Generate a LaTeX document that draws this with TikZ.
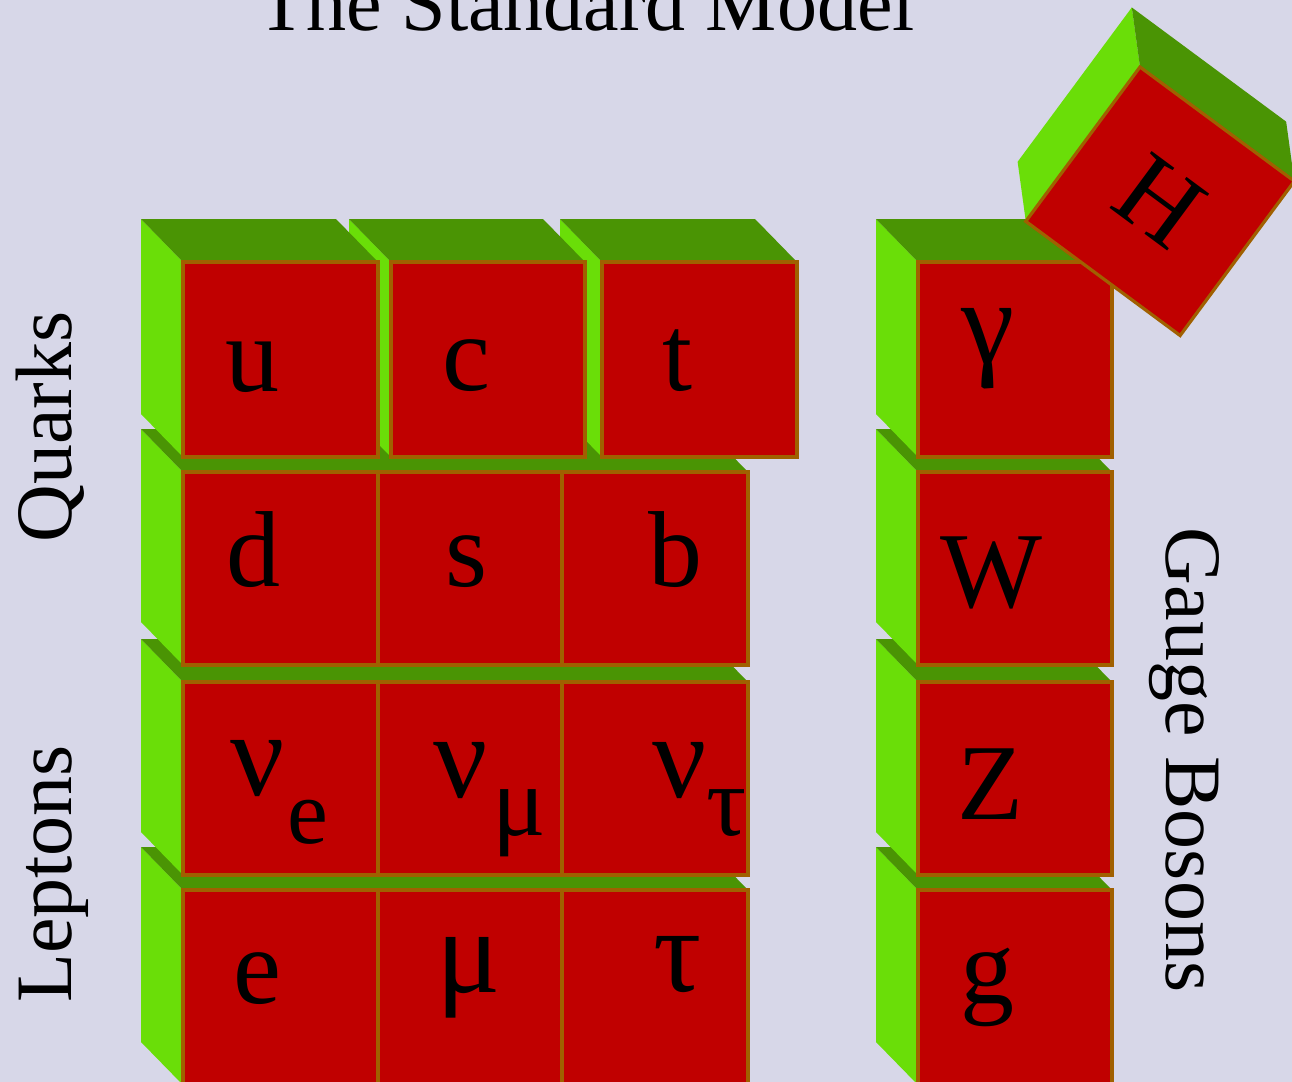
\documentclass[tikz,border=0pt]{standalone}
\usepackage{fontspec}
\setmainfont{Liberation Serif}

\definecolor{bgcol}{RGB}{215,215,232}
\definecolor{cellred}{RGB}{192,0,0}
\definecolor{sidegreen}{RGB}{106,222,8}
\definecolor{topgreen}{RGB}{74,148,4}
\definecolor{edgebrown}{RGB}{160,96,0}

% front face at (x,y) with width and height, depth goes up and left
\newcommand{\cuboid}[4]{%
  \fill[leftface] (#1,#2) -- ++(-42,-43) -- ++(0,#4) -- ++(42,43) -- cycle;
  \fill[topface] (#1,#2) -- ++(-42,-43) -- ++(#3,0) -- ++(42,43) -- cycle;
  \filldraw[frontface] (#1,#2) rectangle ++(#3,#4);
}

\begin{document}
\begin{tikzpicture}[x=0.5pt, y=-0.5pt,
  leftface/.style={fill=sidegreen},
  topface/.style={fill=topgreen},
  edgeline/.style={draw=edgebrown, line width=1.6pt},
  frontface/.style={edgeline, fill=cellred},
  cell/.style={anchor=base, inner sep=0pt, font=\fontsize{54}{54}\selectfont},
  greek/.style={cell, font=\fontsize{60}{60}\selectfont},
  subcell/.style={anchor=base, inner sep=0pt, font=\fontsize{46}{46}\selectfont},
  subgreek/.style={subcell, font=\fontsize{50}{50}\selectfont},
  heading/.style={anchor=base, inner sep=0pt, font=\fontsize{40}{40}\selectfont}]
  \useasboundingbox (0,0) rectangle (1292,1082);
  \fill[bgcol] (0,0) rectangle (1292,1082);

  % gauge bosons column
  \foreach \y/\h in {890/195, 682/193, 472/193, 262/195}
    \cuboid{918}{\y}{194}{\h};

  % second quark row and the two lepton rows
  \foreach \y/\h in {890/195, 682/193, 472/193} {
    \cuboid{183}{\y}{565}{\h}
    \draw[edgeline] (378,\y) -- ++(0,\h);
    \draw[edgeline] (562,\y) -- ++(0,\h);
  }

  % first quark row
  \cuboid{602}{262}{195}{195}
  \cuboid{391}{262}{194}{195}
  \cuboid{183}{262}{195}{195}

  % the Higgs cube
  \begin{scope}[shift={(1140,67)}, rotate=-36.5]
    \cuboid{0}{0}{192}{192}
    \node[cell, anchor=center, transform shape] (H) at (96,96) {H};
  \end{scope}

  \node[cell] (u) at (252,391) {u};
  \node[cell] (c) at (466,390) {c};
  \node[cell] (t) at (677,390) {t};
  \node[greek] (gamma) at (988,363) {γ};

  \node[cell] (d) at (253,586) {d};
  \node[cell] (s) at (467,586) {s};
  \node[cell] (b) at (675,586) {b};
  \node[cell] (W) at (991,607) {W};

  \node[greek] (nue) at (258,795) {ν};
  \node[subcell] (nue-e) at (308,843) {e};
  \node[greek] (numu) at (461,797) {ν};
  \node[subgreek] (numu-mu) at (519,835) {μ};
  \node[greek] (nutau) at (680,797) {ν};
  \node[subgreek] (nutau-tau) at (727,835) {τ};
  \node[cell] (Z) at (990,819) {Z};

  \node[cell] (e) at (257,1003) {e};
  \node[greek] (mu) at (469,992) {μ};
  \node[greek] (tau) at (678,991) {τ};
  \node[cell] (g) at (987,1003) {g};

  \node[heading] (title) at (586,30) {The Standard Model};
  \node[heading, rotate=90] (quarks) at (71,427) {Quarks};
  \node[heading, rotate=90] (leptons) at (71,874) {Leptons};
  \node[heading, rotate=-90] (bosons) at (1166,760) {Gauge Bosons};
\end{tikzpicture}
\end{document}
